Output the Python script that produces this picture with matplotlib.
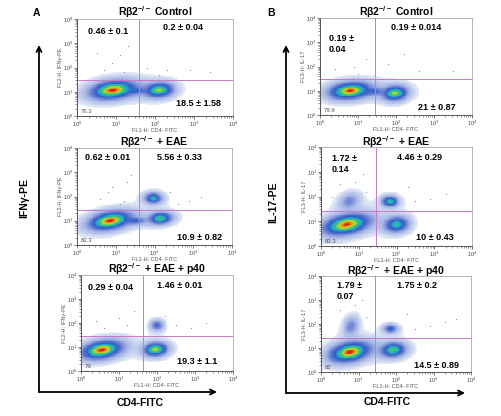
import numpy as np
import matplotlib
matplotlib.use("Agg")
import matplotlib.pyplot as plt
from matplotlib.colors import LinearSegmentedColormap, Normalize
from matplotlib.patches import FancyArrowPatch
from matplotlib.ticker import LogLocator, NullFormatter

plt.rcParams['font.family'] = ['Liberation Sans', 'DejaVu Sans']
plt.rcParams['mathtext.default'] = 'regular'

# ---------------- data ----------------
panel_titles = ["Control", "+ EAE", "+ EAE + p40"]
col_letters = ["A", "B"]
y_channel = ["FL2-H: IFNγ-PE", "FL3-H: IL-17"]
x_channel = "FL1-H: CD4- FITC"
big_ylabels = ["IFNγ-PE", "IL-17-PE"]
big_xlabel = "CD4-FITC"

# quadrant annotations: upper-left, upper-right, lower-right, lower-left corner
ul_text = [["0.46 ± 0.1", "0.62 ± 0.01", "0.29 ± 0.04"],
           ["0.19 ±\n0.04", "1.72 ±\n0.14", "1.79 ±\n0.07"]]
ur_text = [["0.2 ± 0.04", "5.56 ± 0.33", "1.46 ± 0.01"],
           ["0.19 ± 0.014", "4.46 ± 0.29", "1.75 ± 0.2"]]
lr_text = [["18.5 ± 1.58", "10.9 ± 0.82", "19.3 ± 1.1"],
           ["21 ± 0.87", "10 ± 0.43", "14.5 ± 0.89"]]
ll_text = [["76.3", "82.3", "79"], ["79.9", "83.3", "82"]]

# quadrant gate positions (fluorescence units)
gate_x = [[40, 40, 42], [28, 29, 28]]
gate_y = [[30, 28, 29], [30, 27, 26]]

# cell populations, log10 units: centre x, centre y, spread x, spread y, correlation, weight
pop_cx = [[[0.92, 2.10, 1.50], [0.85, 2.15, 1.97, 1.50], [0.55, 1.96, 2.00]],
          [[0.79, 1.97, 1.40], [0.68, 2.00, 1.83, 0.75], [0.77, 1.92, 0.80, 1.85]]]
pop_cy = [[[1.07, 1.07, 1.05], [1.00, 1.10, 1.93, 1.00], [0.88, 0.90, 1.90]],
          [[1.00, 0.90, 0.97], [0.87, 0.87, 1.80, 1.80], [0.83, 0.92, 1.90, 1.80]]]
pop_sx = [[[0.15, 0.12, 0.14], [0.14, 0.11, 0.09, 0.14], [0.14, 0.10, 0.09]],
          [[0.14, 0.11, 0.14], [0.16, 0.12, 0.08, 0.16], [0.14, 0.12, 0.12, 0.09]]]
pop_sy = [[[0.10, 0.10, 0.08], [0.10, 0.09, 0.09, 0.08], [0.10, 0.09, 0.12]],
          [[0.09, 0.10, 0.08], [0.11, 0.12, 0.08, 0.20], [0.11, 0.11, 0.24, 0.09]]]
pop_rho = [[[0.25, 0.1, 0.0], [0.35, 0.1, 0.0, 0.0], [0.30, 0.1, 0.0]],
           [[0.20, 0.1, 0.0], [0.35, 0.1, 0.0, 0.2], [0.30, 0.1, 0.2, 0.0]]]
pop_w = [[[0.76, 0.185, 0.02], [0.82, 0.11, 0.055, 0.02], [0.79, 0.19, 0.015]],
         [[0.80, 0.21, 0.02], [0.83, 0.10, 0.045, 0.02], [0.82, 0.145, 0.02, 0.017]]]

# sparse single events (log10 units)
sparse_x = [[[0.5, 0.9, 1.1, 1.2, 0.7, 1.3, 2.9, 2.3, 1.8, 3.4, 2.1],
             [0.6, 0.9, 1.2, 1.4, 0.8, 1.1, 2.6, 2.9, 3.2, 2.4, 1.3],
             [0.6, 1.0, 1.2, 0.4, 1.4, 2.5, 2.9, 3.3, 2.2]],
            [[0.6, 0.9, 1.2, 1.0, 2.6, 3.5, 2.2, 1.8, 0.4],
             [0.5, 0.9, 1.2, 1.1, 2.5, 2.9, 3.3, 2.3, 0.3],
             [0.5, 0.9, 1.2, 1.1, 2.5, 2.9, 3.3, 2.3, 3.6]]]
sparse_y = [[[2.6, 2.2, 2.5, 1.8, 1.9, 2.9, 1.9, 1.9, 2.0, 1.8, 1.7],
             [1.9, 2.4, 1.8, 2.9, 2.2, 1.7, 1.7, 1.8, 2.0, 2.2, 2.6],
             [1.8, 2.2, 1.9, 2.1, 2.5, 1.9, 1.8, 2.0, 2.3]],
            [[2.7, 2.0, 2.3, 1.7, 1.8, 1.8, 2.5, 2.1, 1.9],
             [2.5, 2.6, 2.2, 2.9, 1.8, 1.9, 2.1, 2.4, 2.0],
             [2.6, 2.8, 2.3, 3.0, 1.8, 1.9, 2.1, 2.4, 2.2]]]

# ---------------- layout (pixels) ----------------
W, H = 501, 416
fig = plt.figure(figsize=(W / 100, H / 100), dpi=100)
boxes = [[(77, 19, 233, 116), (77, 148, 232, 245), (81, 275, 233, 371)],
         [(320, 18, 472, 115), (321, 147, 472, 246), (321, 276, 471, 372)]]
title_y = [[12, 142, 269], [12, 142, 271]]
ul_pos = [[(108, 31), (108, 158), (111, 288)], [(329, 44), (332, 164), (337, 291)]]
ur_pos = [[(183, 27), (179, 157), (180, 286)], [(416, 27), (420, 158), (417, 286)]]
lr_pos = [[(199, 104), (200, 237), (197, 362)], [(437, 107), (435, 237), (437, 366)]]

cmap = LinearSegmentedColormap.from_list("flow", [
    (0.00, "#e8edf8"), (0.28, "#a6b6e4"), (0.46, "#5470cc"), (0.56, "#2e60c8"),
    (0.65, "#22aad0"), (0.75, "#30c47e"), (0.85, "#bedc20"), (0.93, "#f28c1c"),
    (1.00, "#d41e10")])

gx = np.linspace(0, 4, 161)
gy = np.linspace(0, 4, 121)
cxg = 0.5 * (gx[1:] + gx[:-1])
cyg = 0.5 * (gy[1:] + gy[:-1])
X, Y = np.meshgrid(cxg, cyg)
NU = 3.0
LOGMIN = -3.2

def fx(px):
    return px / W

def fy(py):
    return 1 - py / H

gate_color = "#c87ac8"
for c in range(2):
    for r in range(3):
        x0, y0, x1, y1 = boxes[c][r]
        ax = fig.add_axes([fx(x0), fy(y1), (x1 - x0) / W, (y1 - y0) / H])
        dens = np.zeros_like(X)
        for cx, cy, sx, sy, rho, w in zip(pop_cx[c][r], pop_cy[c][r], pop_sx[c][r],
                                          pop_sy[c][r], pop_rho[c][r], pop_w[c][r]):
            u = (X - cx) / sx
            v = (Y - cy) / sy
            q = (u * u - 2 * rho * u * v + v * v) / (1 - rho ** 2)
            dens += w / (sx * sy * np.sqrt(1 - rho ** 2)) * (1 + q / NU) ** (-(NU / 2 + 1))
        ld = np.log10(dens / dens.max())
        dm = np.ma.masked_less(ld, LOGMIN)
        ax.pcolormesh(10 ** gx, 10 ** gy, dm, cmap=cmap,
                      norm=Normalize(vmin=LOGMIN, vmax=0.0), shading="flat",
                      rasterized=True)
        ax.scatter(10 ** np.array(sparse_x[c][r]), 10 ** np.array(sparse_y[c][r]),
                   s=0.6, color="#6a78a8", linewidths=0)
        ax.set_xscale("log")
        ax.set_yscale("log")
        ax.set_xlim(1, 1e4)
        ax.set_ylim(1, 1e4)
        ax.axvline(gate_x[c][r], color=gate_color, lw=0.7)
        ax.axhline(gate_y[c][r], color=gate_color, lw=0.7)
        for s in ["left", "bottom"]:
            ax.spines[s].set_color("#555555")
            ax.spines[s].set_linewidth(0.7)
        for s in ["top", "right"]:
            ax.spines[s].set_color("#999999")
            ax.spines[s].set_linewidth(0.5)
        ax.xaxis.set_major_locator(LogLocator(base=10, numticks=6))
        ax.yaxis.set_major_locator(LogLocator(base=10, numticks=6))
        ax.xaxis.set_minor_locator(LogLocator(base=10, subs=np.arange(2, 10), numticks=12))
        ax.yaxis.set_minor_locator(LogLocator(base=10, subs=np.arange(2, 10), numticks=12))
        ax.xaxis.set_minor_formatter(NullFormatter())
        ax.yaxis.set_minor_formatter(NullFormatter())
        ax.tick_params(which="major", length=2, width=0.5, labelsize=4,
                       colors="#444444", pad=0.5)
        ax.tick_params(which="minor", length=1.2, width=0.4, colors="#444444")
        ax.set_xlabel(x_channel, fontsize=4, color="#555555", labelpad=-0.8)
        ax.set_ylabel(y_channel[c], fontsize=4, color="#555555", labelpad=0.5)
        ax.text(0.025, 0.025, ll_text[c][r], transform=ax.transAxes, fontsize=4.3,
                color="#555555", ha="left", va="bottom")
        # title
        fig.text(fx((x0 + x1) / 2), fy(title_y[c][r]),
                 "Rβ2$^{-/-}$ " + panel_titles[r], ha="center", va="center",
                 fontsize=7.5, fontweight="bold")
        # quadrant numbers
        if "\n" in ul_text[c][r]:
            fig.text(fx(ul_pos[c][r][0]), fy(ul_pos[c][r][1]), ul_text[c][r],
                     ha="left", va="center", fontsize=6.5, fontweight="bold",
                     linespacing=1.2)
        else:
            fig.text(fx(ul_pos[c][r][0]), fy(ul_pos[c][r][1]), ul_text[c][r],
                     ha="center", va="center", fontsize=6.5, fontweight="bold")
        fig.text(fx(ur_pos[c][r][0]), fy(ur_pos[c][r][1]), ur_text[c][r],
                 ha="center", va="center", fontsize=6.5, fontweight="bold")
        fig.text(fx(lr_pos[c][r][0]), fy(lr_pos[c][r][1]), lr_text[c][r],
                 ha="center", va="center", fontsize=6.5, fontweight="bold")

# column decorations
letter_pos = [(36, 13), (271, 13)]
arrow_x = [39, 286]
arrow_top = [45, 45]
arrow_bottom = [392, 393]
arrow_right = [217, 465]
ylab_pos = [(24, 198), (273, 202)]
xlab_pos = [(140, 403), (387, 402)]
for c in range(2):
    fig.text(fx(letter_pos[c][0]), fy(letter_pos[c][1]), col_letters[c],
             ha="center", va="center", fontsize=7.5, fontweight="bold")
    fig.add_artist(FancyArrowPatch((fx(arrow_x[c]), fy(arrow_bottom[c])),
                                   (fx(arrow_x[c]), fy(arrow_top[c])),
                                   transform=fig.transFigure, arrowstyle="->",
                                   mutation_scale=9, lw=1.3, color="black",
                                   shrinkA=0, shrinkB=0))
    fig.add_artist(FancyArrowPatch((fx(arrow_x[c]), fy(arrow_bottom[c])),
                                   (fx(arrow_right[c]), fy(arrow_bottom[c])),
                                   transform=fig.transFigure, arrowstyle="->",
                                   mutation_scale=9, lw=1.3, color="black",
                                   shrinkA=0, shrinkB=0))
    fig.text(fx(ylab_pos[c][0]), fy(ylab_pos[c][1]), big_ylabels[c], rotation=90,
             ha="center", va="center", fontsize=7.5, fontweight="bold")
    fig.text(fx(xlab_pos[c][0]), fy(xlab_pos[c][1]), big_xlabel,
             ha="center", va="center", fontsize=7.5, fontweight="bold")

fig.savefig("out.png", dpi=100)
